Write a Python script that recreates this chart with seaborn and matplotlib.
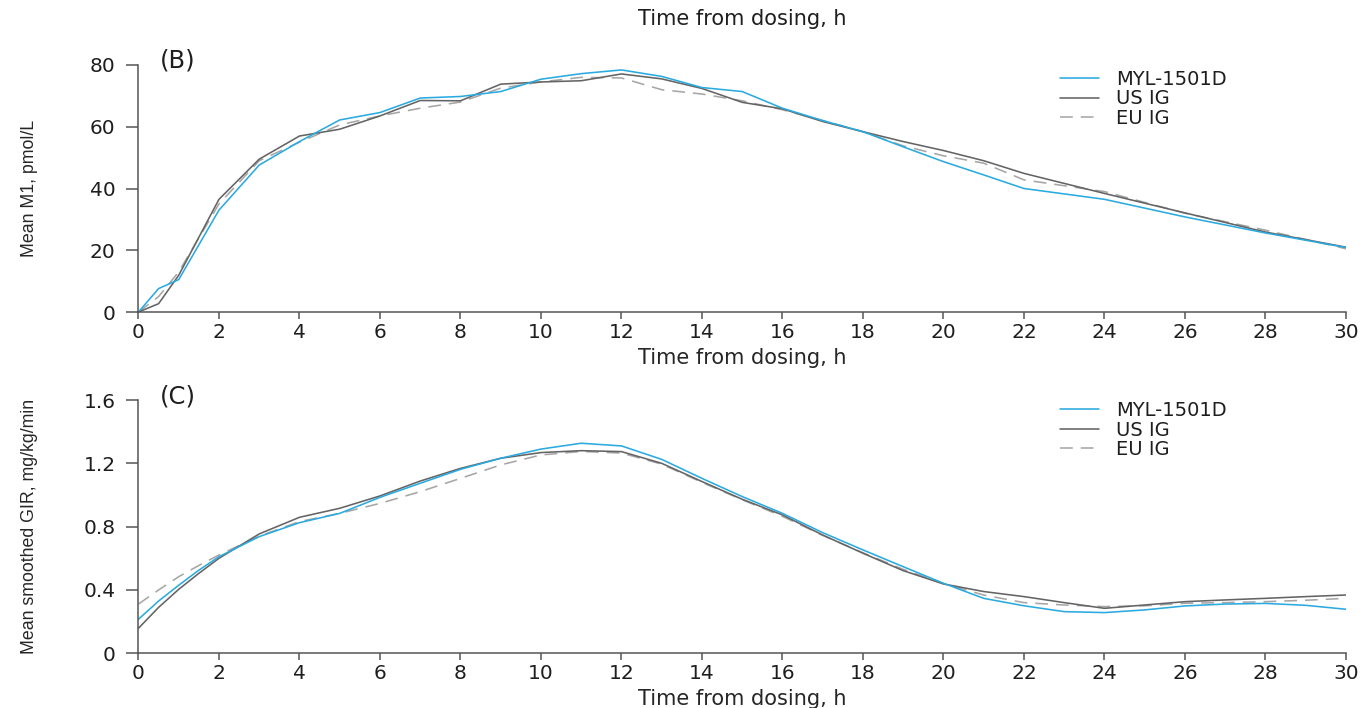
import matplotlib
matplotlib.use("Agg")
import matplotlib.pyplot as plt
from matplotlib import font_manager
import numpy as np
import pandas as pd
import seaborn as sns

# ---- data -----------------------------------------------------------------
series_names = ["MYL-1501D", "US IG", "EU IG"]

# (B) mean M1 concentration, pmol/L
time_pk = [0, 0.5, 1, 2, 3, 4, 5, 6, 7, 8, 9, 10, 11, 12, 13, 14, 15, 16,
           17, 18, 19, 20, 21, 22, 24, 26, 28, 30]
m1_myl = [0, 7.6, 10.5, 33, 47.6, 55.2, 62.2, 64.6, 69.3, 69.8, 71.4, 75.4,
          77.2, 78.4, 76.3, 72.7, 71.4, 66, 62, 58.4, 53.5, 48.7, 44.4, 40.0,
          36.5, 30.8, 25.6, 20.9]
m1_us = [0, 2.7, 11.9, 36.5, 49.5, 57, 59.2, 63.5, 68.5, 68.4, 73.8, 74.5,
         74.9, 77.1, 75.5, 72.4, 67.9, 65.8, 61.7, 58.4, 55.2, 52.3, 49, 44.9,
         38.4, 32.1, 25.9, 21]
m1_eu = [0, 5, 13, 35, 49, 55, 60.6, 63.5, 66, 68, 72.5, 74.5, 76, 75.8, 72,
         70.6, 68.4, 65.5, 62, 58.4, 53.8, 50.6, 48.2, 42.8, 39, 32, 26.5, 20.5]

# (C) mean smoothed glucose infusion rate, mg/kg/min
time_gir = [0, 0.5, 1, 1.5, 2, 3, 4, 5, 6, 7, 8, 9, 10, 11, 12, 13, 14, 15,
            16, 17, 18, 19, 20, 21, 22, 23, 24, 25, 26, 27, 28, 29, 30]
gir_myl = [0.215, 0.33, 0.43, 0.525, 0.61, 0.737, 0.825, 0.884, 0.985, 1.074,
           1.162, 1.232, 1.29, 1.327, 1.31, 1.225, 1.105, 0.99, 0.884, 0.762,
           0.653, 0.547, 0.442, 0.347, 0.30, 0.263, 0.257, 0.274, 0.299,
           0.311, 0.315, 0.303, 0.278]
gir_us = [0.158, 0.29, 0.404, 0.505, 0.6, 0.754, 0.859, 0.916, 0.994, 1.088,
          1.168, 1.232, 1.268, 1.28, 1.274, 1.2, 1.085, 0.973, 0.874, 0.747,
          0.632, 0.522, 0.438, 0.39, 0.358, 0.32, 0.284, 0.305, 0.326, 0.337,
          0.347, 0.358, 0.368]
gir_eu = [0.311, 0.40, 0.484, 0.555, 0.621, 0.74, 0.832, 0.884, 0.947, 1.021,
          1.105, 1.19, 1.253, 1.275, 1.265, 1.195, 1.08, 0.97, 0.865, 0.745,
          0.635, 0.53, 0.44, 0.368, 0.32, 0.305, 0.295, 0.30, 0.316, 0.32,
          0.326, 0.335, 0.347]

x_ticks = list(range(0, 31, 2))
m1_ticks = [0, 20, 40, 60, 80]
gir_ticks = [0, 0.4, 0.8, 1.2, 1.6]
gir_ticklabels = ["0", "0.4", "0.8", "1.2", "1.6"]

# ---- styling --------------------------------------------------------------
sns.set_style("ticks")
plt.rcParams["font.family"] = ["DejaVu Sans"]
text_col = "#1e1e1e"
plt.rcParams["text.color"] = text_col

installed = {f.name for f in font_manager.fontManager.ttflist}
narrow = "Liberation Sans Narrow" if "Liberation Sans Narrow" in installed else "Liberation Sans"
ylab_size = 15 if narrow == "Liberation Sans Narrow" else 12.8

colors = {"MYL-1501D": "#2aaae0", "US IG": "#646464", "EU IG": "#a6a6a6"}
styles = {"MYL-1501D": "-", "US IG": "-", "EU IG": (0, (8, 5))}
spine_col = "#555555"
tick_font = 14.5
label_font = 15

fig = plt.figure(figsize=(13.67, 7.08), dpi=100)
ax_b = fig.add_axes([0.1013, 0.5593, 0.8833, 0.3489])
ax_c = fig.add_axes([0.1013, 0.0773, 0.8833, 0.3577])


def draw_panel(ax, t, values, ylim, yticks, yticklabels, ylabel, tag, tag_y,
               leg_top):
    df = pd.DataFrame({
        "time": np.repeat([t], 3, axis=0).ravel(),
        "value": np.concatenate(values),
        "series": np.repeat(series_names, len(t)),
    })
    # grey reference products first, test product on top
    for name in ["EU IG", "US IG", "MYL-1501D"]:
        sub = df[df["series"] == name]
        sns.lineplot(data=sub, x="time", y="value", ax=ax, color=colors[name],
                     linestyle=styles[name], linewidth=1.15, label=name,
                     errorbar=None)
    ax.set_xlim(0, 30)
    ax.set_ylim(*ylim)
    ax.set_xticks(x_ticks)
    ax.set_xticklabels([str(v) for v in x_ticks])
    ax.set_yticks(yticks)
    ax.set_yticklabels(yticklabels)
    for side in ["top", "right"]:
        ax.spines[side].set_visible(False)
    for side in ["left", "bottom"]:
        ax.spines[side].set_color(spine_col)
        ax.spines[side].set_linewidth(1.1)
    ax.tick_params(axis="x", length=5, width=1.1, color=spine_col,
                   labelsize=tick_font, pad=3, labelcolor=text_col)
    ax.tick_params(axis="y", length=8.5, width=1.1, color=spine_col,
                   labelsize=tick_font, pad=8, labelcolor=text_col)
    ax.set_xlabel("Time from dosing, h", fontsize=label_font, labelpad=4)
    ax.set_ylabel(ylabel, fontsize=ylab_size, family=narrow, labelpad=0)
    ax.yaxis.set_label_coords(-0.083, 0.5)
    ax.text(0.0175, tag_y, tag, transform=ax.transAxes, fontsize=17.5,
            ha="left", va="center")

    handles, labels = ax.get_legend_handles_labels()
    order = [labels.index(n) for n in series_names]
    ax.legend([handles[i] for i in order], [labels[i] for i in order],
              loc="upper left", bbox_to_anchor=(0.763, leg_top),
              frameon=False, fontsize=14, handlelength=2.0,
              handletextpad=0.9, labelspacing=0.02, borderpad=0,
              borderaxespad=0)


draw_panel(ax_b, time_pk, [m1_myl, m1_us, m1_eu], (0, 80), m1_ticks,
           [str(v) for v in m1_ticks], "Mean M1, pmol/L", "(B)", 1.02, 0.98)
draw_panel(ax_c, time_gir, [gir_myl, gir_us, gir_eu], (0, 1.6), gir_ticks,
           gir_ticklabels, "Mean smoothed GIR, mg/kg/min", "(C)", 1.012, 0.995)

# axis title carried over from the panel above
fig.text(0.5431, 1 - 19 / 708, "Time from dosing, h", fontsize=label_font,
         ha="center", va="center")

fig.savefig("out.png", dpi=100)
